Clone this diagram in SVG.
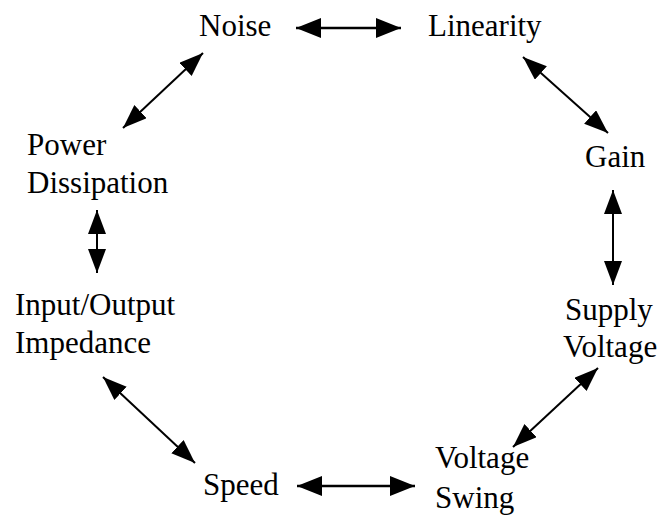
<svg xmlns="http://www.w3.org/2000/svg" width="667" height="520" viewBox="0 0 667 520">
<style>
.c{stroke:#000;stroke-width:2;fill:none;marker-start:url(#ah);marker-end:url(#ah)}
.t{stroke-width:2.6;marker-start:url(#ahb);marker-end:url(#ahb)}
</style>
<defs>
<marker id="ah" markerUnits="userSpaceOnUse" markerWidth="26" markerHeight="20" refX="24" refY="9" orient="auto-start-reverse" viewBox="0 0 26 20">
<path d="M0,0 L24,9 L0,18 Z" fill="#000"/>
</marker>
<marker id="ahb" markerUnits="userSpaceOnUse" markerWidth="28" markerHeight="22" refX="25" refY="10" orient="auto-start-reverse" viewBox="0 0 28 22">
<path d="M0,0 L25,10 L0,20 Z" fill="#000"/>
</marker>
</defs>
<g font-family="Liberation Serif, Times New Roman, serif" font-size="31" fill="#000">
<g id="noise"><text x="199" y="36">Noise</text></g>
<g id="linearity"><text x="428" y="36">Linearity</text></g>
<g id="gain"><text x="585" y="167">Gain</text></g>
<g id="supply-voltage"><text x="565" y="320">Supply</text><text x="563" y="357">Voltage</text></g>
<g id="voltage-swing"><text x="435" y="468">Voltage</text><text x="435" y="508">Swing</text></g>
<g id="speed"><text x="203" y="495">Speed</text></g>
<g id="impedance"><text x="15" y="315">Input/Output</text><text x="15" y="353">Impedance</text></g>
<g id="power"><text x="27" y="155">Power</text><text x="27" y="193">Dissipation</text></g>
</g>
<g id="connectors">
<line class="c t" x1="296" y1="28" x2="401" y2="28"/>
<line class="c" x1="523" y1="57" x2="608" y2="133"/>
<line class="c" x1="613" y1="190" x2="613" y2="285"/>
<line class="c" x1="598" y1="368" x2="513" y2="447"/>
<line class="c t" x1="297" y1="486" x2="415" y2="486"/>
<line class="c" x1="195" y1="463" x2="103" y2="377"/>
<line class="c" x1="97" y1="273" x2="97" y2="210"/>
<line class="c" x1="123" y1="128" x2="203" y2="53"/>
</g>
</svg>
